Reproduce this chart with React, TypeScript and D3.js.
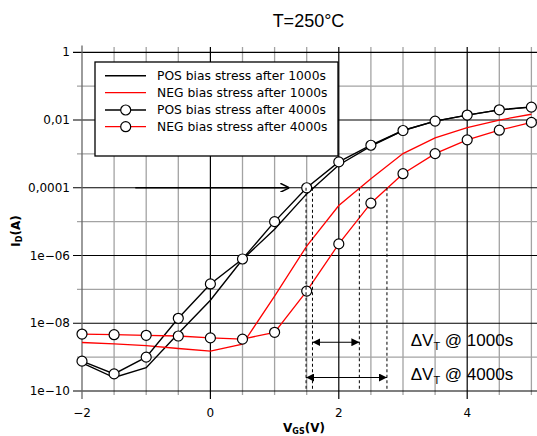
import React from 'react';
import * as d3 from 'd3';

// ---------- data ----------
const vgs = [-2, -1.5, -1, -0.5, 0, 0.5, 1, 1.5, 2, 2.5, 3, 3.5, 4, 4.5, 5];
const posAfter1000s = [6.8e-10, 2.5e-10, 4.9e-10, 5.0e-9, 4.8e-8, 7.6e-7, 6.0e-6, 6.6e-5, 4.7e-4, 1.7e-3, 4.9e-3, 9.3e-3, 1.4e-2, 2.0e-2, 2.45e-2];
const negAfter1000s = [2.7e-9, 2.45e-9, 2.2e-9, 1.8e-9, 1.5e-9, 2.4e-9, 6.3e-8, 1.9e-6, 3.0e-5, 1.86e-4, 1.02e-3, 2.95e-3, 6.0e-3, 1.0e-2, 1.48e-2];
const posAfter4000s = [7.6e-10, 3.2e-10, 1.0e-9, 1.4e-8, 1.45e-7, 7.9e-7, 1.0e-5, 1.0e-4, 5.8e-4, 1.8e-3, 4.9e-3, 9.3e-3, 1.4e-2, 2.0e-2, 2.4e-2];
const negAfter4000s = [4.8e-9, 4.6e-9, 4.4e-9, 4.2e-9, 3.7e-9, 3.4e-9, 5.4e-9, 8.9e-8, 2.2e-6, 3.5e-5, 2.6e-4, 1.02e-3, 2.6e-3, 5.0e-3, 8.5e-3];

const seriesNames = ['POS bias stress after 1000s', 'NEG bias stress after 1000s', 'POS bias stress after 4000s', 'NEG bias stress after 4000s'];

const xTickValues = [-2, 0, 2, 4];
const xTickLabels = ['\u22122', '0', '2', '4'];
const xMinorValues = [-1.5, -1, -0.5, 0.5, 1, 1.5, 2.5, 3, 3.5, 4.5, 5];
const yTickValues = [1, 1e-2, 1e-4, 1e-6, 1e-8, 1e-10];
const yTickLabels = ['1', '0,01', '0,0001', '1e\u221206', '1e\u221208', '1e\u221210'];
const yMinorValues = [1e-1, 1e-3, 1e-5, 1e-7, 1e-9];

// annotations (data coordinates)
const thresholdCurrent = 1e-4;
const vtPos1000 = 1.59;
const vtPos4000 = 1.49;
const vtNeg1000 = 2.32;
const vtNeg4000 = 2.75;
const hArrowFrom = -1.17;
const hArrowTo = 1.23;
const dArrowY1000 = 2.75e-9;
const dArrowY4000 = 2.5e-10;
const labelX = 3.12;
const labelY1000 = 2.1e-9;
const labelY4000 = 2.1e-10;

const W = 537;
const H = 436;
const x = d3.scaleLinear().domain([-2, 5.2]).range([82, 82 + 7.2 * 64.2]);
const y = d3.scaleLog().domain([1e-10, 1.585]).range([391, 45.5]);

const series = [
  { name: seriesNames[0], values: posAfter1000s, color: '#000', markers: false, width: 1.4 },
  { name: seriesNames[1], values: negAfter1000s, color: '#ff0000', markers: false, width: 1.3 },
  { name: seriesNames[2], values: posAfter4000s, color: '#000', markers: true, width: 1.4 },
  { name: seriesNames[3], values: negAfter4000s, color: '#ff0000', markers: true, width: 1.3 },
];

const line = d3.line<[number, number]>().x(d => x(d[0])).y(d => y(d[1]));

const GRAY = '#a3a3a3';
const tickFont = '"DejaVu Sans", sans-serif';
const arialFont = '"Liberation Sans", Arial, sans-serif';

export default function App() {
  const top = y.range()[1];
  const bottom = y.range()[0];
  const left = x(-2);
  const right = W;
  const legend = { x: 95, y: 62, w: 243, h: 94 };
  const rowY = [75.7, 92.7, 110, 126.7];

  return (
    <svg width={W} height={H} style={{ position: 'absolute', left: 0, top: 0, background: '#fff' }}>
      <defs>
        <marker id="tri" viewBox="0 0 10 10" refX="10" refY="5" markerWidth="8" markerHeight="8" markerUnits="userSpaceOnUse" orient="auto-start-reverse">
          <path d="M0,0 L10,5 L0,10 Z" fill="#000" />
        </marker>
        <marker id="chev" viewBox="0 0 10 10" refX="10" refY="5" markerWidth="9" markerHeight="9" markerUnits="userSpaceOnUse" orient="auto">
          <path d="M0,0 L10,5 L0,10" fill="none" stroke="#000" strokeWidth="1.6" />
        </marker>
      </defs>
      <rect width={W} height={H} fill="#fff" />
      {/* minor grid */}
      {xMinorValues.map(v => (
        <line key={'xm' + v} x1={x(v)} x2={x(v)} y1={top + 1.5} y2={bottom + 4} stroke={GRAY} strokeWidth={1.3} />
      ))}
      {yMinorValues.map(v => (
        <line key={'ym' + v} x1={left - 5} x2={right} y1={y(v)} y2={y(v)} stroke={GRAY} strokeWidth={1.3} />
      ))}
      {/* major grid */}
      {xTickValues.filter(v => v !== -2).map(v => (
        <line key={'xM' + v} x1={x(v)} x2={x(v)} y1={top + 1.5} y2={bottom + 8} stroke="#000" strokeWidth={1.2} />
      ))}
      {yTickValues.map(v => (
        <line key={'yM' + v} x1={left - 9} x2={right} y1={y(v)} y2={y(v)} stroke="#000" strokeWidth={1.2} />
      ))}
      {/* left axis */}
      <line x1={left} x2={left} y1={top} y2={bottom + 8} stroke="#666" strokeWidth={1.3} />
      {/* tick labels */}
      {xTickValues.map((v, i) => (
        <text key={'xl' + v} x={x(v)} y={416.5} textAnchor="middle" fontFamily={tickFont} fontSize={12} fill="#000">{xTickLabels[i]}</text>
      ))}
      {yTickValues.map((v, i) => (
        <text key={'yl' + v} x={70} y={y(v)} dy="0.35em" textAnchor="end" fontFamily={tickFont} fontSize={12} fill="#000">{yTickLabels[i]}</text>
      ))}
      {/* axis titles */}
      <text x={304} y={431.5} textAnchor="middle" fontFamily={tickFont} fontSize={12} fontWeight="bold">
        V<tspan fontSize={8} dy={2}>GS</tspan><tspan dy={-2}>(V)</tspan>
      </text>
      <text transform="translate(19.5,231) rotate(-90)" textAnchor="middle" fontFamily={tickFont} fontSize={12} fontWeight="bold">
        I<tspan fontSize={8} dy={2}>D</tspan><tspan dy={-2}>(A)</tspan>
      </text>
      {/* title */}
      <text x={308.5} y={26.5} textAnchor="middle" fontFamily={arialFont} fontSize={18}>T=250°C</text>

      {/* data */}
      {series.map(s => (
        <path key={s.name} d={line(vgs.map((v, i) => [v, s.values[i]]) as [number, number][]) || ''} fill="none" stroke={s.color} strokeWidth={s.width} />
      ))}
      {series.filter(s => s.markers).map(s => (
        <g key={s.name + 'm'}>
          {vgs.map((v, i) => (
            <circle key={i} cx={x(v)} cy={y(s.values[i])} r={5} fill="#fff" stroke="#000" strokeWidth={1.2} />
          ))}
        </g>
      ))}

      {/* annotations */}
      {[vtPos4000, vtPos1000, vtNeg1000, vtNeg4000].map(v => (
        <line key={'dv' + v} x1={x(v)} x2={x(v)} y1={y(thresholdCurrent)} y2={bottom} stroke="#000" strokeWidth={1} strokeDasharray="3,2.5" />
      ))}
      <line x1={x(hArrowFrom)} x2={x(hArrowTo)} y1={y(thresholdCurrent)} y2={y(thresholdCurrent)} stroke="#000" strokeWidth={1.4} markerEnd="url(#chev)" />
      <line x1={x(vtPos1000)} x2={x(vtNeg1000)} y1={y(dArrowY1000)} y2={y(dArrowY1000)} stroke="#000" strokeWidth={1.1} markerStart="url(#tri)" markerEnd="url(#tri)" />
      <line x1={x(vtPos4000)} x2={x(vtNeg4000)} y1={y(dArrowY4000)} y2={y(dArrowY4000)} stroke="#000" strokeWidth={1.1} markerStart="url(#tri)" markerEnd="url(#tri)" />
      <text x={x(labelX)} y={y(labelY1000)} fontFamily={arialFont} fontSize={17} fill="#000">
        ΔV<tspan fontSize={11} dy={4} fill="#000">T</tspan><tspan dy={-4} fill="#000"> @ 1000s</tspan>
      </text>
      <text x={x(labelX)} y={y(labelY4000)} fontFamily={arialFont} fontSize={17} fill="#000">
        ΔV<tspan fontSize={11} dy={4} fill="#000">T</tspan><tspan dy={-4} fill="#000"> @ 4000s</tspan>
      </text>

      {/* legend */}
      <rect x={legend.x} y={legend.y} width={legend.w} height={legend.h} fill="#fff" stroke="#000" strokeWidth={1.3} />
      {series.map((s, i) => (
        <g key={'lg' + i}>
          <line x1={105} x2={146} y1={rowY[i]} y2={rowY[i]} stroke={s.color} strokeWidth={s.width} />
          {s.markers && <circle cx={125.7} cy={rowY[i]} r={5} fill="#fff" stroke="#000" strokeWidth={1.2} />}
          <text x={157} y={rowY[i]} dy="0.35em" fontFamily={tickFont} fontSize={12.3} fill="#000">{s.name}</text>
        </g>
      ))}
    </svg>
  );
}
